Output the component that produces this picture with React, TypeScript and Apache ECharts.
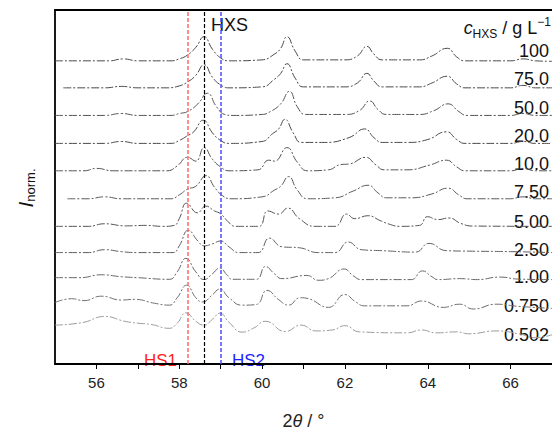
import React, { useEffect, useRef } from "react";
import * as echarts from "echarts";

const FONT = "'Liberation Sans', Arial, sans-serif";

// concentration labels (g/L), top to bottom
const concLabels = ["100", "75.0", "50.0", "20.0", "10.0", "7.50", "5.00", "2.50", "1.00", "0.750", "0.502"];

// vertical stacking offsets (normalized intensity units)
const offsets = [314.3, 286.3, 257.7, 228.7, 200.3, 171.3, 142.7, 115.5, 89.5, 63.7, 40.3];

// reference peak positions (2θ / °)
const refLines = { HS1: 58.2, HXS: 58.6, HS2: 59.0 };

// traces: [2θ, intensity above own baseline]
const t100 = [[55,0],[56.3,0],[56.65,2],[57.0,0],[57.8,0],[58.0,2],[58.2,6],[58.4,14],[58.6,25],[58.8,12],[59.0,3],[59.2,0],[60.0,1],[60.3,7],[60.45,13],[60.6,25],[60.8,10],[61.0,1],[62.0,1],[62.3,5],[62.53,15],[62.7,7],[62.9,1],[63.8,1],[64.1,5],[64.47,13],[64.7,4],[64.9,0],[66.0,0],[66.3,2],[66.6,0],[67,-0.5]];
const t75 = [[55.2,0],[56.2,0],[56.6,1.5],[57.0,0],[57.7,0],[58.0,2],[58.2,6],[58.4,13],[58.6,24],[58.8,11],[59.0,3],[59.2,0],[60.0,1],[60.3,9],[60.45,15],[60.6,25],[60.8,10],[61.0,1],[62.0,1],[62.3,5],[62.53,15],[62.7,7],[62.9,1],[63.8,1],[64.1,5],[64.47,12],[64.7,4],[64.9,0],[66.0,0],[66.3,2.5],[66.6,0],[67,0]];
const t50 = [[55,0],[56.2,0],[56.6,2],[57.0,0],[57.8,0],[58.0,2],[58.2,4],[58.45,12],[58.68,23],[58.9,9],[59.1,1],[59.3,0],[60.0,1],[60.2,4],[60.45,12],[60.66,25],[60.85,9],[61.05,1],[62.0,1],[62.35,5],[62.6,15],[62.8,6],[63.0,1],[63.8,1],[64.15,5],[64.49,12],[64.75,4],[64.95,0],[66.0,0],[66.3,2],[66.6,0],[67,0]];
const t20 = [[55,0],[56.2,0],[56.6,2],[57.0,0],[57.8,0],[58.0,3],[58.2,8],[58.35,12],[58.58,24],[58.8,11],[59.0,3],[59.2,0],[60.0,2],[60.25,10],[60.4,15],[60.55,25],[60.75,11],[60.95,1],[61.5,1],[62.1,6],[62.48,15],[62.7,6],[62.9,1],[63.5,1],[64.0,4],[64.45,12],[64.7,4],[64.9,0],[66.0,0],[66.3,2],[66.6,0],[67,0]];
const t10 = [[55,0],[55.7,0],[56.0,2.5],[56.4,0],[57.7,0],[57.95,5],[58.2,14],[58.4,10],[58.6,24],[58.8,12],[59.0,4],[59.2,0],[59.9,1],[60.16,11],[60.3,10],[60.6,24],[60.85,9],[61.1,0],[61.6,1],[61.9,6.5],[62.1,7],[62.5,14],[62.75,6],[62.95,1],[63.5,1],[64.05,6],[64.45,11],[64.7,4],[64.9,0],[66.0,0],[66.3,2.5],[66.6,0],[67,0]];
const t7_5 = [[55.3,0],[55.8,0],[56.2,2],[56.6,0],[57.8,0],[58.0,4],[58.2,10],[58.4,13],[58.65,24],[58.85,12],[59.05,3],[59.25,0],[60.0,2],[60.3,9],[60.45,13],[60.64,23],[60.85,9],[61.1,0],[61.76,1],[62.2,8],[62.56,14],[62.8,6],[63.0,1],[63.6,1],[64.1,5],[64.49,11],[64.75,4],[64.95,0],[66.0,0],[66.3,2],[66.6,0],[67,0]];
const t5 = [[55,0],[55.8,0],[56.2,2.7],[56.7,0.5],[57.2,1],[57.6,0],[57.88,1],[58.0,8],[58.18,24],[58.44,14],[58.64,21],[58.85,16],[59.0,13],[59.2,4],[59.36,0],[59.92,0],[60.14,16],[60.4,12.7],[60.62,19],[60.9,8],[61.28,0],[61.76,0],[62.04,12.7],[62.24,8],[62.56,11],[62.85,6],[63.04,2.7],[63.33,0],[63.8,1],[63.99,10],[64.25,7],[64.51,8.7],[64.8,3],[65.09,0.3],[67,0]];
const t2_5 = [[55,0],[55.8,0],[56.2,3],[56.6,1],[57.0,0],[57.85,0],[58.0,7],[58.22,23],[58.45,12],[58.6,7],[58.8,9],[59.0,12],[59.2,6],[59.44,0],[59.9,0],[60.18,15],[60.48,6],[60.9,5],[61.36,0],[61.76,0],[62.08,11],[62.4,3],[62.9,2],[63.7,0.5],[64.03,9.5],[64.45,2],[65.0,1.5],[66.0,1],[67,0]];
const t1 = [[55,0],[55.6,0],[56.12,3],[56.6,1],[57.0,0],[57.76,-1.7],[57.95,6],[58.16,20],[58.4,6],[58.6,-2],[58.8,4],[58.98,10],[59.15,3],[59.28,-1.7],[59.86,-1.7],[60.08,11.6],[60.3,4],[60.48,-1],[61.08,2.3],[61.36,-2.7],[61.6,-1],[61.98,9],[62.2,2],[62.4,-2],[63.6,-2],[63.87,7],[64.1,1],[64.25,-2],[64.77,-1],[65.2,-2],[65.73,0.6],[66.2,-1.5],[67,-2]];
const t0_75 = [[55,0],[55.4,4],[55.7,2],[56.12,6.6],[56.6,2.6],[56.92,3.3],[57.4,-0.7],[57.76,-2.7],[57.95,5],[58.18,18],[58.4,5],[58.56,0.6],[58.8,8],[58.98,14],[59.2,5],[59.52,-2.7],[59.86,-2],[60.12,12.6],[60.4,3],[60.64,-2.7],[60.92,5],[61.12,4],[61.6,-5],[62.0,8.3],[62.25,1],[62.48,-3.4],[63.5,-3.4],[63.85,1.6],[64.37,-5],[64.77,-1.7],[65.1,-6.7],[65.65,-1.7],[66.2,-4],[67,-6]];
const t0_502 = [[55,0],[55.67,2.7],[56.2,9],[56.68,4],[57.0,2],[57.32,0.7],[57.76,-3.3],[57.95,2],[58.16,12.7],[58.4,4],[58.6,0],[58.8,6],[58.98,12.4],[59.2,3],[59.52,-7.3],[59.8,-3],[60.08,4],[60.56,-6.6],[60.94,0],[61.3,-6],[61.7,-5],[62.0,-0.6],[62.35,-7],[63.5,-8],[63.85,-5],[64.2,-8],[64.7,-7],[65.0,-9],[65.65,-6],[66.2,-9],[66.6,-13],[67,-10]];

const traces = [t100, t75, t50, t20, t10, t7_5, t5, t2_5, t1, t0_75, t0_502];

const xTickLabels = [56, 58, 60, 62, 64, 66];
const xTicks = [56, 57, 58, 59, 60, 61, 62, 63, 64, 65, 66];

// layout (pixel) constants
const traceColors = ["#4a4a4a", "#4a4a4a", "#555", "#4a4a4a", "#555", "#5a5a5a", "#555", "#606060", "#666", "#6e6e6e", "#9a9a9a"];
const labelY = [50.5, 79.2, 107.5, 136, 163.5, 192, 221.7, 250, 277.3, 306, 335];

export default function App() {
  const ref = useRef<HTMLDivElement>(null);
  useEffect(() => {
    if (!ref.current) return;
    const chart = echarts.init(ref.current, null, { renderer: "svg" });
    const series: any[] = traces.map((pts, i) => ({
      type: "line",
      data: pts.map(([x, h]) => [x, h + offsets[i]]),
      showSymbol: false,
      smooth: 0.5,
      silent: true,
      lineStyle: { color: traceColors[i], width: 1, type: [8, 2, 2, 2] },
      z: 3,
    }));
    series.push({
      type: "line",
      data: [],
      silent: true,
      markLine: {
        silent: true,
        symbol: ["none", "none"],
        label: { show: false },
        data: [
          { xAxis: refLines.HS1, lineStyle: { color: "#ff6a6a", type: [4, 2], width: 1.5 } },
          { xAxis: refLines.HXS, lineStyle: { color: "#000", type: [4, 2], width: 1.2 } },
          { xAxis: refLines.HS2, lineStyle: { color: "#4d4dff", type: [4, 2], width: 1.5 } },
        ],
      },
      z: 2,
    });

    const labelTexts = concLabels.map((t, i) => ({
      type: "text",
      x: 549,
      y: labelY[i],
      style: { text: t, font: `18px ${FONT}`, fill: "#111", align: "right", verticalAlign: "middle" },
    }));

    chart.setOption({
      animation: false,
      grid: { left: 55, top: 10, width: 498, bottom: 58, containLabel: false },
      xAxis: [
        {
          type: "value",
          min: 55,
          max: 67,
          interval: 1,
          position: "bottom",
          axisLine: { show: true, lineStyle: { color: "#000", width: 1.8 } },
          axisTick: { show: true, length: 5, customValues: xTicks, lineStyle: { color: "#000", width: 1 } },
          axisLabel: {
            show: true,
            customValues: xTickLabels,
            fontFamily: FONT,
            fontSize: 15,
            color: "#222",
            margin: 11,
          },
          splitLine: { show: false },
          name: "{n|2}{i|θ}{n| / °}",
          nameLocation: "middle",
          nameGap: 48,
          nameTextStyle: {
            rich: {
              n: { fontFamily: FONT, fontSize: 18, color: "#222" },
              i: { fontFamily: FONT, fontSize: 18, fontStyle: "italic", color: "#222" },
            },
          },
        },
        {
          type: "value",
          min: 55,
          max: 67,
          position: "top",
          axisLine: { show: true, lineStyle: { color: "#000", width: 1.8 } },
          axisTick: { show: false },
          axisLabel: { show: false },
          splitLine: { show: false },
        },
      ],
      yAxis: {
        type: "value",
        min: 0,
        max: 367,
        axisLine: { show: true, lineStyle: { color: "#000", width: 1.8 } },
        axisTick: { show: false },
        axisLabel: { show: false },
        splitLine: { show: false },
      },
      series,
      graphic: [
        {
          type: "text",
          x: 25,
          y: 188,
          rotation: Math.PI / 2,
          style: {
            text: "{i|I}{s|norm.}",
            align: "center",
            verticalAlign: "middle",
            rich: {
              i: { fontFamily: FONT, fontSize: 21, fontStyle: "italic", fill: "#111", lineHeight: 24 },
              s: { fontFamily: FONT, fontSize: 13, fill: "#111", lineHeight: 14, verticalAlign: "bottom" },
            },
          },
        },
        {
          type: "text",
          x: 551,
          y: 28,
          style: {
            text: "{c|c}{sub|HXS}{n| / g L}{sup|−1}",
            align: "right",
            verticalAlign: "middle",
            rich: {
              c: { fontFamily: FONT, fontSize: 18, fontStyle: "italic", fill: "#111", lineHeight: 24 },
              sub: { fontFamily: FONT, fontSize: 12, fill: "#111", lineHeight: 13, verticalAlign: "bottom" },
              n: { fontFamily: FONT, fontSize: 18, fill: "#111", lineHeight: 24 },
              sup: { fontFamily: FONT, fontSize: 12, fill: "#111", lineHeight: 13, verticalAlign: "top" },
            },
          },
        },
        {
          type: "text",
          x: 211,
          y: 25,
          style: { text: "HXS", font: `18px ${FONT}`, fill: "#111", align: "left", verticalAlign: "middle" },
        },
        {
          type: "text",
          x: 144,
          y: 360,
          style: { text: "HS1", font: `17px ${FONT}`, fill: "#ff1f1f", align: "left", verticalAlign: "middle" },
        },
        {
          type: "text",
          x: 232,
          y: 360,
          style: { text: "HS2", font: `17px ${FONT}`, fill: "#1f1fff", align: "left", verticalAlign: "middle" },
        },
        ...labelTexts,
      ],
    });
    return () => chart.dispose();
  }, []);
  return <div ref={ref} style={{ position: "absolute", left: 0, top: 0, width: 552, height: 435 }} />;
}
